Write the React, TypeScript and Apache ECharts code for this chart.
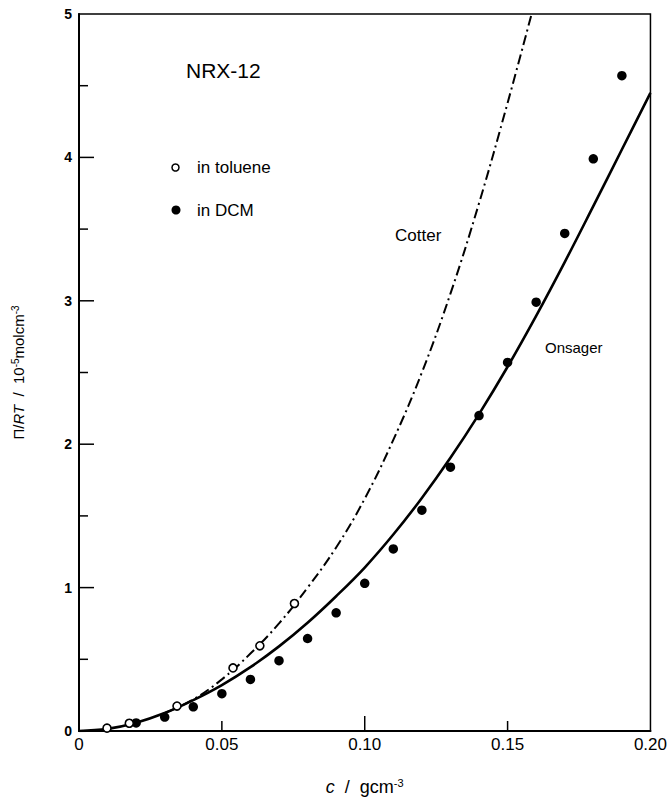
import React, { useEffect, useRef } from 'react';
import * as echarts from 'echarts';

const FONT = '"Liberation Sans", Arial, Helvetica, sans-serif';

// Data
const tolueneC = [0.0098, 0.0176, 0.0343, 0.0539, 0.0633, 0.0754];
const tolueneY = [0.02, 0.054, 0.174, 0.44, 0.594, 0.889];

const dcmC = [0.02, 0.03, 0.04, 0.05, 0.06, 0.07, 0.08, 0.09, 0.10, 0.11, 0.12, 0.13, 0.14, 0.15, 0.16, 0.17, 0.18, 0.19];
const dcmY = [0.056, 0.097, 0.169, 0.26, 0.36, 0.49, 0.645, 0.824, 1.03, 1.27, 1.54, 1.84, 2.20, 2.57, 2.99, 3.47, 3.99, 4.57];

const onsagerC = [0, 0.01, 0.02, 0.03, 0.04, 0.05, 0.06, 0.07, 0.08, 0.09, 0.10, 0.11, 0.12, 0.13, 0.14, 0.15, 0.16, 0.17, 0.18, 0.19, 0.20];
const onsagerY = [0, 0.015, 0.058, 0.125, 0.215, 0.32, 0.445, 0.59, 0.755, 0.94, 1.14, 1.37, 1.625, 1.905, 2.21, 2.54, 2.895, 3.27, 3.66, 4.055, 4.45];

const cotterC = [0.03, 0.04, 0.05, 0.06, 0.07, 0.08, 0.09, 0.10, 0.11, 0.12, 0.13, 0.14, 0.15, 0.1584];
const cotterY = [0.125, 0.22, 0.36, 0.54, 0.75, 1.00, 1.28, 1.62, 2.03, 2.50, 3.05, 3.68, 4.38, 5.0];

const xTickLabels = ['0', '0.05', '0.10', '0.15', '0.20'];
const yTickLabels = ['0', '1', '2', '3', '4', '5'];

// tick positions (value, kind: 1 = major, 0 = minor)
const xTickValues = [0.05, 0.10, 0.15];
const xTickKinds = [0, 1, 0];
const yTickValues = [0.5, 1, 1.5, 2, 2.5, 3, 3.5, 4, 4.5];
const yTickKinds = [0, 1, 0, 1, 0, 1, 0, 1, 0];

const zip = (a: number[], b: number[]) => a.map((v, i) => [v, b[i]]);

export default function App() {
  const ref = useRef<HTMLDivElement>(null);
  useEffect(() => {
    const chart = echarts.init(ref.current!, null, { renderer: 'svg' });
    const option: any = {
      animation: false,
      backgroundColor: '#fff',
      textStyle: { fontFamily: FONT, color: '#000' },
      grid: {
        left: 79, right: 18, top: 14, bottom: 69,
        show: true, borderColor: '#000', borderWidth: 1.5, backgroundColor: 'transparent',
      },
      xAxis: [
        {
          type: 'value', min: 0, max: 0.2, interval: 0.05,
          axisLine: { show: true, onZero: false, lineStyle: { color: '#000', width: 2 } },
          axisTick: { show: false },
          axisLabel: {
            show: true, margin: 5, fontSize: 17, color: '#000', fontFamily: FONT,
            formatter: (v: number) => xTickLabels[Math.round(v / 0.05)],
          },
          splitLine: { show: false },
          name: '{i|c}{a|  /  gcm}{s|-3}',
          nameLocation: 'middle',
          nameGap: 46,
          nameTextStyle: {
            rich: {
              i: { fontFamily: FONT, fontSize: 18, fontStyle: 'italic', color: '#000', lineHeight: 20 },
              a: { fontFamily: FONT, fontSize: 18, color: '#000', lineHeight: 20 },
              s: { fontFamily: FONT, fontSize: 11, color: '#000', verticalAlign: 'top', lineHeight: 11 },
            },
          },
        },
      ],
      yAxis: {
        type: 'value', min: 0, max: 5, interval: 1,
        axisLine: { show: true, onZero: false, lineStyle: { color: '#000', width: 2 } },
        axisTick: { show: false },
        splitLine: { show: false },
        axisLabel: {
          margin: 7, fontSize: 14, fontWeight: 'bold', color: '#000', fontFamily: FONT,
          formatter: (v: number) => yTickLabels[Math.round(v)],
        },
        name: '{a|Π/}{i|RT}{a|  /  10}{s|-5}{a|molcm}{s|-3}',
        nameLocation: 'middle',
        nameRotate: 90,
        nameGap: 52,
        nameTextStyle: {
          rich: {
            i: { fontFamily: FONT, fontSize: 15, fontStyle: 'italic', color: '#000', lineHeight: 17 },
            a: { fontFamily: FONT, fontSize: 15, color: '#000', lineHeight: 17 },
            s: { fontFamily: FONT, fontSize: 10, color: '#000', verticalAlign: 'top', lineHeight: 10 },
          },
        },
      },
      series: [
        {
          name: 'xTicks', type: 'custom', coordinateSystem: 'cartesian2d', clip: false, silent: true, z: 1,
          data: zip(xTickValues, xTickKinds).map(([v, k]) => [v, 0, k]),
          encode: { x: 0, y: 1 },
          renderItem: (params: any, api: any) => {
            const p = api.coord([api.value(0), 0]);
            const len = api.value(2) ? 15 : 10;
            return { type: 'line', shape: { x1: p[0], y1: p[1], x2: p[0], y2: p[1] - len }, style: { stroke: '#000', lineWidth: 1.5 } };
          },
        },
        {
          name: 'yTicks', type: 'custom', coordinateSystem: 'cartesian2d', clip: false, silent: true, z: 1,
          data: zip(yTickValues, yTickKinds).map(([v, k]) => [0, v, k]),
          encode: { x: 0, y: 1 },
          renderItem: (params: any, api: any) => {
            const p = api.coord([0, api.value(1)]);
            const len = api.value(2) ? 15 : 9;
            return { type: 'line', shape: { x1: p[0], y1: p[1], x2: p[0] + len, y2: p[1] }, style: { stroke: '#000', lineWidth: 1.5 } };
          },
        },
        {
          name: 'Onsager', type: 'line', data: zip(onsagerC, onsagerY), smooth: 0.4,
          showSymbol: false, symbol: 'none', z: 2,
          lineStyle: { color: '#000', width: 2.6 },
        },
        {
          name: 'Cotter', type: 'line', data: zip(cotterC, cotterY), smooth: 0.4,
          showSymbol: false, symbol: 'none', z: 2, clip: true,
          lineStyle: { color: '#000', width: 2, type: [10, 4, 2, 4] },
        },
        {
          name: 'in DCM', type: 'scatter', data: zip(dcmC, dcmY), symbol: 'circle', symbolSize: 9.5, z: 5,
          itemStyle: { color: '#000', opacity: 1 },
        },
        {
          name: 'in toluene', type: 'scatter', data: zip(tolueneC, tolueneY), symbol: 'circle', symbolSize: 8, z: 6,
          itemStyle: { color: '#fff', borderColor: '#000', borderWidth: 1.6, opacity: 1 },
        },
      ],
      graphic: [
        { type: 'text', x: 186, y: 70, style: { text: 'NRX-12', fontSize: 21, fontFamily: FONT, fill: '#000', verticalAlign: 'middle' } },
        { type: 'circle', shape: { cx: 175.5, cy: 167.5, r: 3.5 }, style: { fill: '#fff', stroke: '#000', lineWidth: 1.5 } },
        { type: 'text', x: 197, y: 167, style: { text: 'in toluene', fontSize: 17, fontFamily: FONT, fill: '#000', verticalAlign: 'middle' } },
        { type: 'circle', shape: { cx: 176, cy: 210, r: 4.5 }, style: { fill: '#000' } },
        { type: 'text', x: 197, y: 210, style: { text: 'in DCM', fontSize: 17, fontFamily: FONT, fill: '#000', verticalAlign: 'middle' } },
        { type: 'text', x: 395, y: 235, style: { text: 'Cotter', fontSize: 17, fontFamily: FONT, fill: '#000', verticalAlign: 'middle' } },
        { type: 'text', x: 545, y: 347, style: { text: 'Onsager', fontSize: 15, fontFamily: FONT, fill: '#000', verticalAlign: 'middle' } },
      ],
    };
    chart.setOption(option);
    return () => chart.dispose();
  }, []);
  return <div ref={ref} style={{ position: 'fixed', left: 0, top: 0, width: 670, height: 801, background: '#fff' }} />;
}
